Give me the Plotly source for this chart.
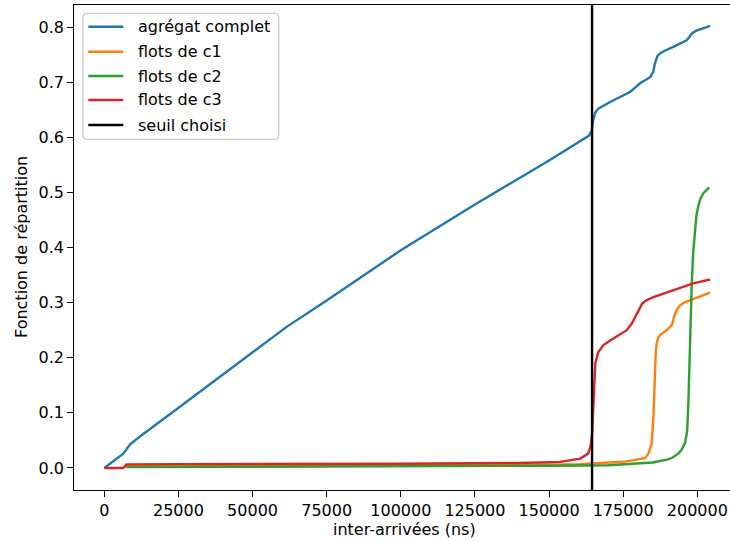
import plotly.graph_objects as go

# Empirical CDF of inter-arrival times (ns)
agg_x = [0, 3000, 6400, 8700, 12000, 25500, 48000, 61500, 75000, 100000, 125000,
         150000, 163500, 164400, 164900, 165600, 166600, 170600, 177300, 180700,
         184100, 185200, 185600, 186000, 186500, 187400, 189000, 191900, 194000,
         196400, 197200, 198100, 199500, 200900, 202500, 204300]
agg_y = [0, 0.012, 0.026, 0.043, 0.057, 0.111, 0.2015, 0.256, 0.304, 0.395, 0.478,
         0.558, 0.603, 0.612, 0.632, 0.645, 0.652, 0.664, 0.682, 0.698,
         0.709, 0.719, 0.732, 0.741, 0.747, 0.752, 0.757, 0.764, 0.770,
         0.776, 0.781, 0.788, 0.793, 0.796, 0.799, 0.802]

c1_x = [7000, 50000, 100000, 150000, 160000, 170600, 176000, 179600, 182400, 183500,
        184600, 185200, 185700, 186000, 186300, 186800, 187400, 189700, 191400,
        192500, 193300, 194200, 195500, 198700, 204300]
c1_y = [0.003, 0.004, 0.005, 0.006, 0.007, 0.010, 0.012, 0.015, 0.018, 0.026,
        0.044, 0.093, 0.183, 0.210, 0.226, 0.236, 0.241, 0.250, 0.259,
        0.280, 0.289, 0.295, 0.300, 0.307, 0.318]

c2_x = [7500, 50000, 100000, 150000, 170000, 181800, 185000, 189700, 191400, 193600,
        194700, 195900, 196600, 197000, 197300, 197600, 198100, 198600, 199200,
        199700, 200300, 201000, 202000, 204000]
c2_y = [0.0015, 0.002, 0.003, 0.004, 0.005, 0.008, 0.010, 0.015, 0.018, 0.026,
        0.033, 0.046, 0.068, 0.120, 0.190, 0.260, 0.330, 0.390, 0.437,
        0.458, 0.474, 0.488, 0.498, 0.509]

c3_x = [0, 6400, 7500, 25000, 100000, 140000, 153700, 160500, 163200, 164000, 164500,
        164900, 165200, 165600, 166600, 168300, 171700, 176200, 177900, 179600,
        180500, 181300, 182000, 183500, 185200, 188000, 193000, 198600, 204300]
c3_y = [0, 0, 0.0065, 0.007, 0.0075, 0.009, 0.011, 0.017, 0.026, 0.040, 0.060,
        0.100, 0.150, 0.190, 0.210, 0.223, 0.235, 0.250, 0.262, 0.280,
        0.290, 0.297, 0.301, 0.306, 0.310, 0.315, 0.324, 0.335, 0.342]

threshold = 164500

series_names = ["agrégat complet", "flots de c1", "flots de c2", "flots de c3", "seuil choisi"]
colors = ["#1f77b4", "#ff7f0e", "#2ca02c", "#d62728", "#000000"]

x_ticks = [0, 25000, 50000, 75000, 100000, 125000, 150000, 175000, 200000]
y_ticks = [0.0, 0.1, 0.2, 0.3, 0.4, 0.5, 0.6, 0.7, 0.8]

W, H = 730, 542
ML, MR, MT, MB = 74, 0, 5, 52
PW, PH = W - ML - MR, H - MT - MB
FONT = "DejaVu Sans"
LW = 2.4


def px(x):
    return (x - ML) / PW


def py(y):
    return (H - MB - y) / PH


fig = go.Figure()
for xs, ys, name, col in zip([agg_x, c1_x, c2_x, c3_x], [agg_y, c1_y, c2_y, c3_y],
                             series_names[:4], colors[:4]):
    fig.add_trace(go.Scatter(x=xs, y=ys, mode="lines", name=name,
                             line=dict(color=col, width=LW), showlegend=False))

# chosen threshold
fig.add_shape(type="line", xref="x", yref="paper", x0=threshold, x1=threshold,
              y0=0, y1=1, line=dict(color=colors[4], width=LW), layer="above")

# legend frame (rounded)
x0, x1, y0, y1, r = px(83), px(278.7), py(13.3), py(139.3), 4
rx, ry = r / PW, r / PH
path = (f"M{x0+rx},{y0} L{x1-rx},{y0} Q{x1},{y0} {x1},{y0-ry} "
        f"L{x1},{y1+ry} Q{x1},{y1} {x1-rx},{y1} L{x0+rx},{y1} "
        f"Q{x0},{y1} {x0},{y1+ry} L{x0},{y0-ry} Q{x0},{y0} {x0+rx},{y0} Z")
fig.add_shape(type="path", xref="paper", yref="paper", path=path,
              fillcolor="rgba(255,255,255,0.8)",
              line=dict(color="#cccccc", width=1.3), layer="above")

entry_y = [26.7, 51.7, 76, 100, 125]
for name, col, ey in zip(series_names, colors, entry_y):
    fig.add_shape(type="line", xref="paper", yref="paper",
                  x0=px(88.3), x1=px(123.3), y0=py(ey), y1=py(ey),
                  line=dict(color=col, width=LW), layer="above")
    fig.add_annotation(text=name, xref="paper", yref="paper", x=px(136), y=py(ey),
                       xanchor="left", yanchor="middle", showarrow=False,
                       font=dict(family=FONT, size=16, color="black"))

# axis titles
fig.add_annotation(text="inter-arrivées (ns)", xref="paper", yref="paper",
                   x=px(405), y=py(529), xanchor="center", yanchor="middle",
                   showarrow=False, font=dict(family=FONT, size=16, color="black"))
fig.add_annotation(text="Fonction de répartition", xref="paper", yref="paper",
                   x=px(21), y=py(247), xanchor="center", yanchor="middle",
                   textangle=-90, showarrow=False,
                   font=dict(family=FONT, size=16, color="black"))

fig.update_xaxes(range=[-10220, -10220 + PW / 0.002965], tickvals=x_ticks,
                 ticktext=[str(v) for v in x_ticks],
                 showgrid=False, zeroline=False, showline=True, linecolor="black",
                 linewidth=1.3, mirror=True, ticks="outside", ticklen=5.6,
                 tickwidth=1.3, tickcolor="black",
                 tickfont=dict(family=FONT, size=16, color="black"))
fig.update_yaxes(range=[-0.04, 0.84], tickvals=y_ticks,
                 ticktext=[f"{v:.1f}" for v in y_ticks],
                 showgrid=False, zeroline=False, showline=True, linecolor="black",
                 linewidth=1.3, mirror=False, ticks="outside", ticklen=5.6,
                 tickwidth=1.3, tickcolor="black",
                 tickfont=dict(family=FONT, size=16, color="black"))

fig.update_layout(width=W, height=H, margin=dict(l=ML, r=MR, t=MT, b=MB),
                  plot_bgcolor="white", paper_bgcolor="white", showlegend=False)

fig.write_html("out.html")
